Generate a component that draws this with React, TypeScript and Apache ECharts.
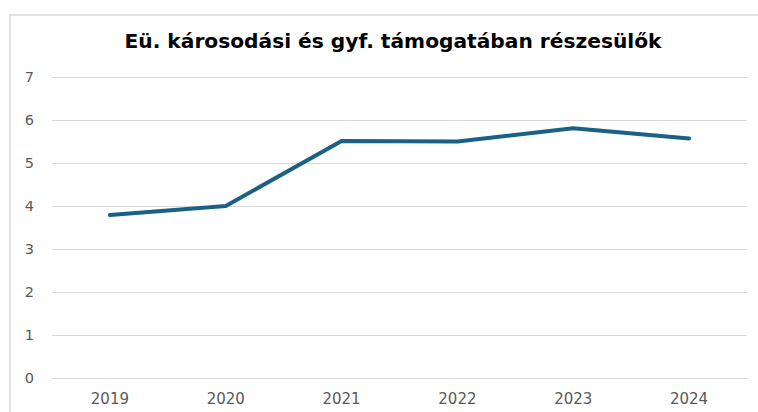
import React, { useEffect, useRef } from "react";
import * as echarts from "echarts";

const categories = ["2019", "2020", "2021", "2022", "2023", "2024"];
const values = [3.79, 4.0, 5.51, 5.5, 5.81, 5.57];
const yTicks = { min: 0, max: 7, interval: 1 };
const titleText = "Eü. károsodási és gyf. támogatában részesülők";

export default function App() {
  const ref = useRef<HTMLDivElement>(null);
  useEffect(() => {
    if (!ref.current) return;
    const chart = echarts.init(ref.current, null, { renderer: "svg" });
    const labelFont = "DejaVu Sans, Verdana, sans-serif";
    chart.setOption({
      animation: false,
      backgroundColor: "#ffffff",
      title: {
        text: titleText,
        left: 388,
        textAlign: "center",
        top: 26,
        textStyle: {
          fontFamily: "DejaVu Sans, Verdana, sans-serif",
          fontWeight: "bold",
          fontSize: 20.2,
          color: "#000000",
        },
      },
      graphic: [
        {
          type: "rect",
          shape: { x: 10, y: 15, width: 800, height: 450 },
          style: { fill: "none", stroke: "#d9d9d9", lineWidth: 1.5 },
          silent: true,
          z: -1,
        },
      ],
      grid: { left: 52, right: 11, top: 77, bottom: 34, containLabel: false },
      xAxis: {
        type: "category",
        data: categories,
        boundaryGap: true,
        axisLine: { show: false },
        axisTick: { show: false },
        axisLabel: {
          color: "#595959",
          fontSize: 15,
          fontFamily: labelFont,
          margin: 13,
        },
      },
      yAxis: {
        type: "value",
        min: yTicks.min,
        max: yTicks.max,
        interval: yTicks.interval,
        axisLine: { show: false },
        axisTick: { show: false },
        splitLine: { lineStyle: { color: "#d9d9d9", width: 1 } },
        axisLabel: {
          color: "#595959",
          fontSize: 14.5,
          fontFamily: labelFont,
          margin: 18,
        },
      },
      series: [
        {
          type: "line",
          data: values,
          symbol: "none",
          lineStyle: { color: "#1b6186", width: 4, cap: "round", join: "round" },
        },
      ],
    });
    return () => chart.dispose();
  }, []);
  return (
    <div
      ref={ref}
      style={{ position: "fixed", left: 0, top: 0, width: 758, height: 412 }}
    />
  );
}
